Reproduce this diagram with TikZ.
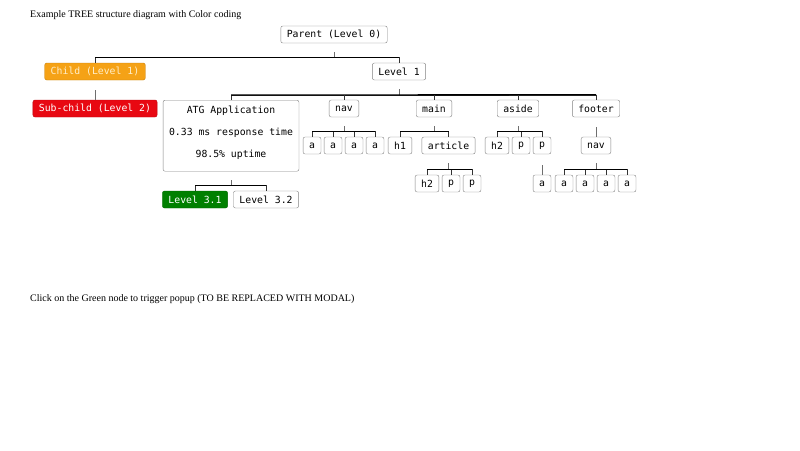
\documentclass[tikz,border=0pt]{standalone}
\usepackage{fontspec}
\setmainfont{Liberation Serif}
\setmonofont{DejaVu Sans Mono}
\usepackage{tikz}
\usetikzlibrary{positioning,calc}
\usepackage{xcolor}
\definecolor{childorange}{RGB}{245,162,22}
\definecolor{childtext}{RGB}{255,238,200}
\definecolor{subred}{RGB}{232,8,18}
\definecolor{leafgreen}{RGB}{0,128,0}
\definecolor{boxgray}{RGB}{130,130,130}
\definecolor{stubgray}{RGB}{110,110,110}

\tikzset{
    leaf/.style={draw=boxgray,rounded corners=2pt,fill=white,text=black,
        font=\ttfamily\fontsize{9.8}{11}\selectfont,
        minimum height=17pt,inner xsep=6pt,inner ysep=0pt},
    bar/.style={draw=black,line width=1.3pt},
    drop/.style={draw=black!80,line width=0.7pt},
    stub/.style={draw=stubgray,line width=0.8pt}
}

\begin{document}
\begin{tikzpicture}[x=1pt,y=-1pt]
        \useasboundingbox (0,0) rectangle (800,450);

        \node[anchor=west,inner sep=0pt,font=\fontsize{10}{12}\selectfont] (title) at (30,15) {Example TREE structure diagram with Color coding};
        \node[anchor=west,inner sep=0pt,font=\fontsize{10}{12}\selectfont] (hint) at (30,299) {Click on the Green node to trigger popup (TO BE REPLACED WITH MODAL)};

        % level 0 and 1
        \node[leaf] (par) at (334,34.5) {Parent (Level 0)};
        \node[leaf,fill=childorange,draw=childorange!80!black,text=childtext] (cl) at (95,71.5) {Child (Level 1)};
        \node[leaf] (lv) at (399,71.5) {Level 1};
        \node[leaf,fill=subred,draw=subred!80!black,text=white] (sub) at (95,108.5) {Sub-child (Level 2)};

        % level 2
        \node[leaf,anchor=north,minimum height=71pt,align=center,
            font=\ttfamily\fontsize{9.8}{22}\selectfont] (atg) at (231,100)
            {ATG Application\\0.33 ms response time\\98.5\% uptime\\[-14pt]\mbox{}};
        \node[leaf] (nav) at (344,108.5) {nav};
        \node[leaf] (main) at (434,108.5) {main};
        \node[leaf] (aside) at (518,108.5) {aside};
        \node[leaf] (foot) at (596,108.5) {footer};

        % level 3
        \foreach \x [count=\i] in {312,333,354,375}
            \node[leaf] (a\i) at (\x,145.5) {a};
        \node[leaf] (h1) at (400,145.5) {h1};
        \node[leaf] (art) at (448.5,145.5) {article};
        \node[leaf] (h2a) at (497,145.5) {h2};
        \node[leaf] (pa) at (521,145.5) {p};
        \node[leaf] (pb) at (542,145.5) {p};
        \node[leaf] (fnav) at (596,145.5) {nav};
        \node[leaf,fill=leafgreen,draw=leafgreen!80!black,text=white] (l31) at (195,199.5) {Level 3.1};
        \node[leaf] (l32) at (266,199.5) {Level 3.2};

        % level 4
        \node[leaf] (h2b) at (427,183.5) {h2};
        \node[leaf] (pc) at (451,183.5) {p};
        \node[leaf] (pd) at (472,183.5) {p};
        \node[leaf] (a5) at (542,183.5) {a};
        \foreach \x [count=\i from 6] in {564,585,606,627}
            \node[leaf] (a\i) at (\x,183.5) {a};

        % single connectors
        \draw[stub] ([yshift=-10pt]cl.south) -- (sub.north);
        \draw[stub] ([yshift=-10pt]foot.south) -- (fnav.north);
        \draw[stub] ([yshift=-11pt]pb.south) -- (a5.north);

        % parent stubs
        \foreach \p in {par,lv,nav,main,aside,art,fnav}
            \draw[stub] ([yshift=-9pt]\p.south) -- ++(0,-6pt);
        \draw[stub] ([yshift=-9pt]atg.south) -- ++(0,-6pt);

        % bars with drops
        \draw[drop] (cl.north) -- ++(0,5pt) -| (lv.north);
        \draw[bar] ([yshift=5pt]cl.north) -- ([yshift=5pt]lv.north);
        \draw[drop] (atg.north) -- ++(0,5pt) -| (foot.north);
        \draw[bar] ([yshift=5pt]atg.north) -- ([yshift=5pt]foot.north);
        \foreach \c in {nav,main,aside}
            \draw[drop] (\c.north) -- ++(0,5pt);
        \draw[drop] (a1.north) -- ++(0,5pt) -| (a4.north);
        \draw[bar] ([yshift=5pt]a1.north) -- ([yshift=5pt]a4.north);
        \foreach \c in {a2,a3}
            \draw[drop] (\c.north) -- ++(0,5pt);
        \draw[drop] (h1.north) -- ++(0,5pt) -| (art.north);
        \draw[bar] ([yshift=5pt]h1.north) -- ([yshift=5pt]art.north);
        \draw[drop] (h2a.north) -- ++(0,5pt) -| (pb.north);
        \draw[bar] ([yshift=5pt]h2a.north) -- ([yshift=5pt]pb.north);
        \draw[drop] (pa.north) -- ++(0,5pt);
        \draw[drop] (h2b.north) -- ++(0,5pt) -| (pd.north);
        \draw[bar] ([yshift=5pt]h2b.north) -- ([yshift=5pt]pd.north);
        \draw[drop] (pc.north) -- ++(0,5pt);
        \draw[drop] (a6.north) -- ++(0,5pt) -| (a9.north);
        \draw[bar] ([yshift=5pt]a6.north) -- ([yshift=5pt]a9.north);
        \foreach \c in {a7,a8}
            \draw[drop] (\c.north) -- ++(0,5pt);
        \draw[drop] (l31.north) -- ++(0,5pt) -| (l32.north);
        \draw[bar] ([yshift=5pt]l31.north) -- ([yshift=5pt]l32.north);
    \end{tikzpicture}
\end{document}
